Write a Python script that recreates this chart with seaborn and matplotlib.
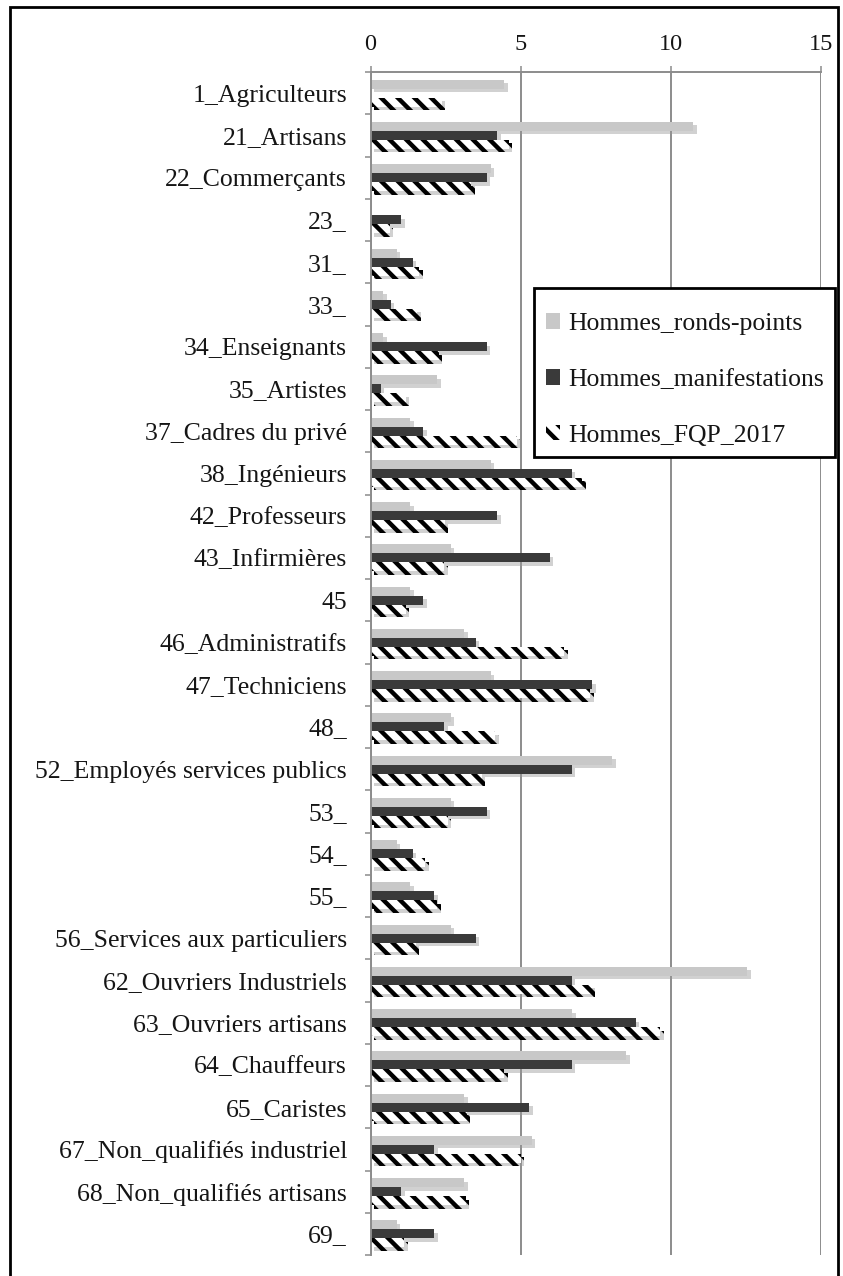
import pandas as pd
import numpy as np
import matplotlib
matplotlib.use("Agg")
import matplotlib.pyplot as plt
import matplotlib.patheffects as pe
from matplotlib.patches import Patch, Rectangle
import seaborn as sns

categories = ["1_Agriculteurs", "21_Artisans", "22_Commerçants", "23_", "31_", "33_",
              "34_Enseignants", "35_Artistes", "37_Cadres du privé", "38_Ingénieurs",
              "42_Professeurs", "43_Infirmières", "45", "46_Administratifs",
              "47_Techniciens", "48_", "52_Employés services publics", "53_", "54_", "55_",
              "56_Services aux particuliers", "62_Ouvriers Industriels",
              "63_Ouvriers artisans", "64_Chauffeurs", "65_Caristes",
              "67_Non_qualifiés industriel", "68_Non_qualifiés artisans", "69_"]

series = ["Hommes_ronds-points", "Hommes_manifestations", "Hommes_FQP_2017"]

ronds_points = [4.45, 10.76, 4.0, 0, 0.87, 0.43, 0.43, 2.23, 1.32, 4.0, 1.32, 2.67, 1.32, 3.12,
                4.0, 2.67, 8.06, 2.67, 0.87, 1.32, 2.67, 12.56, 6.73, 8.52, 3.12, 5.37, 3.12, 0.87]
manifestations = [0, 4.23, 3.87, 1.02, 1.4, 0.68, 3.87, 0.34, 1.76, 6.71, 4.23, 5.98, 1.76, 3.5,
                  7.39, 2.46, 6.71, 3.87, 1.4, 2.12, 3.5, 6.71, 8.83, 6.71, 5.29, 2.12, 1.02, 2.12]
fqp_2017 = [2.37, 4.6, 3.35, 0.65, 1.63, 1.56, 2.28, 1.18, 4.88, 7.06, 2.48, 2.46, 1.18, 6.45,
            7.32, 4.15, 3.7, 2.57, 1.82, 2.23, 1.5, 7.35, 9.65, 4.45, 3.2, 5.0, 3.17, 1.12]

x_ticks = [0, 5, 10, 15]

# tableau long pour seaborn
df = pd.DataFrame({"categorie": categories,
                   series[0]: ronds_points,
                   series[1]: manifestations,
                   series[2]: fqp_2017})
df = df.melt(id_vars="categorie", var_name="serie", value_name="valeur")

light = "#c8c8c8"
dark = "#3a3a3a"
grid_col = "#8c8c8c"
text_col = "#151515"
hatch = "\\\\"

sns.set_style("white")
plt.rcParams["font.family"] = ["Liberation Serif", "DejaVu Serif"]
plt.rcParams["hatch.linewidth"] = 3.2
plt.rcParams["hatch.color"] = "black"

fig = plt.figure(figsize=(8.43, 12.76), dpi=100)
ax = fig.add_axes([370.5 / 843, 1 - 1255 / 1276, (820.7 - 370.5) / 843, (1255 - 72) / 1276])

sns.barplot(data=df, y="categorie", x="valeur", hue="serie", order=categories,
            hue_order=series, palette=[light, dark, "white"], orient="h",
            width=0.64, gap=0, ax=ax, legend=False, zorder=3)

shadow = [pe.SimplePatchShadow(offset=(2.5, -2.5), shadow_rgbFace="#999999", alpha=0.45),
          pe.Normal()]
for i, cont in enumerate(ax.containers):
    for bar in cont:
        bar.set_linewidth(0)
        if i == 2:
            bar.set_facecolor("white")
            bar.set_edgecolor("black")
            bar.set_hatch(hatch)
            bar.set_hatch_linewidth(3.2)
        bar.set_path_effects(shadow)

ax.set_xlim(0, 15)
ax.set_ylim(len(categories) - 0.5, -0.5)
ax.set_xlabel("")
ax.set_ylabel("")

# axe x en haut
ax.xaxis.tick_top()
ax.set_xticks(x_ticks)
ax.set_xticklabels([str(t) for t in x_ticks])
ax.tick_params(axis="x", which="major", direction="out", length=4.5, width=1.1,
               color=grid_col, pad=8, labelsize=17.5, labelcolor=text_col)

# graduations entre les catégories
ax.set_yticks(np.arange(-0.5, len(categories), 1), minor=True)
ax.tick_params(axis="y", which="major", length=0, pad=17, labelsize=18.5, labelcolor=text_col)
ax.tick_params(axis="y", which="minor", direction="out", length=4.5, width=1.1,
               color=grid_col, left=True)

ax.grid(axis="x", color=grid_col, linewidth=1.4, zorder=0)
ax.grid(axis="y", visible=False)
for side in ["right", "bottom"]:
    ax.spines[side].set_visible(False)
for side in ["left", "top"]:
    ax.spines[side].set_color(grid_col)
    ax.spines[side].set_linewidth(1.4)
    ax.spines[side].set_zorder(4)

# légende sans cadre, le cadre est dessiné à part
handles = [Patch(facecolor=light, edgecolor="none"),
           Patch(facecolor=dark, edgecolor="none"),
           Patch(facecolor="white", edgecolor="black", hatch=hatch, linewidth=0)]
leg = ax.legend(handles, series, loc="upper left",
                bbox_to_anchor=(546 / 843, 1 - 313 / 1276), bbox_transform=fig.transFigure,
                fontsize=18.5, frameon=False, borderpad=0,
                labelspacing=1.32, handlelength=0.55, handleheight=0.55, handletextpad=0.3,
                borderaxespad=0)
leg.set_zorder(7)
for t in leg.get_texts():
    t.set_color(text_col)
ax.add_patch(Rectangle((534 / 843, 1 - 457 / 1276), (835 - 534) / 843, (457 - 288) / 1276,
                       transform=fig.transFigure, facecolor="white", edgecolor="black",
                       linewidth=2, zorder=6, clip_on=False))

# cadre autour de la figure
fig.patches.append(Rectangle((10 / 843, -0.05), (838 - 10) / 843, 1.05 - 7 / 1276,
                             transform=fig.transFigure, fill=False,
                             edgecolor="black", linewidth=2))

fig.savefig("out.png", dpi=100)
